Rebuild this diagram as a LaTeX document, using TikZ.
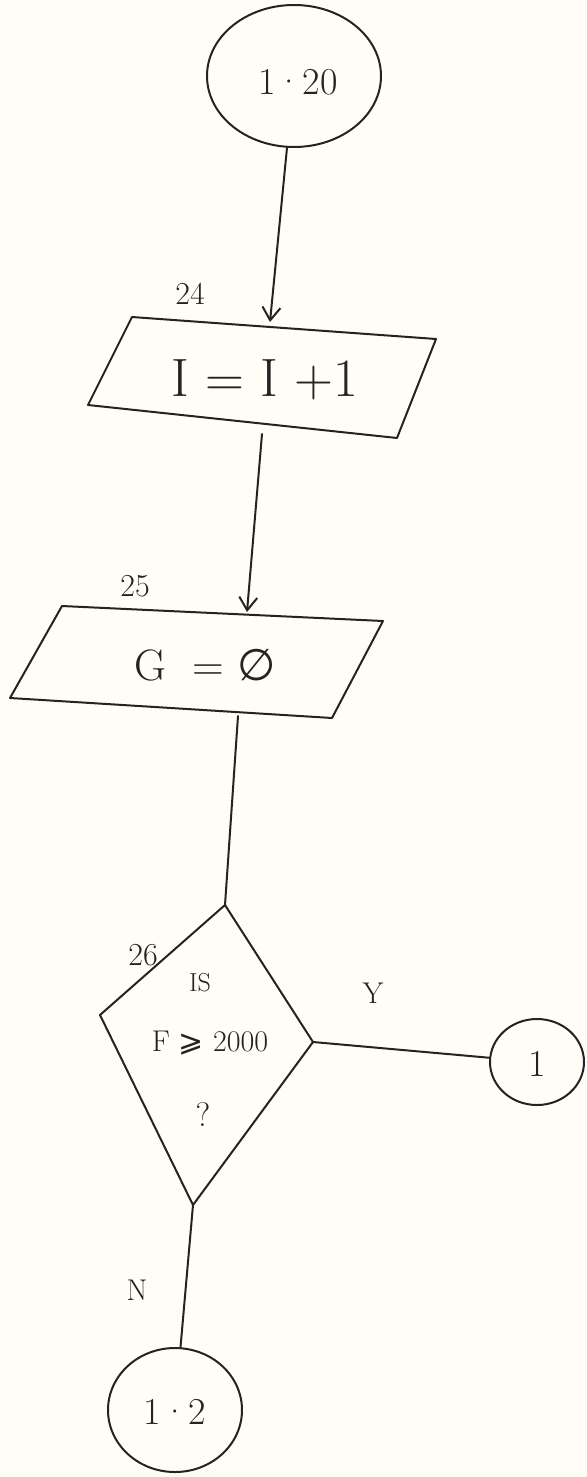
\documentclass[tikz,border=0pt]{standalone}
\usepackage{fontspec}
\setmainfont{Latin Modern Roman}
\newfontfamily\symf{DejaVu Sans}
\usetikzlibrary{arrows.meta,shapes.geometric}
\definecolor{paper}{RGB}{255,253,246}
\definecolor{ink}{RGB}{35,35,35}
\tikzset{
  ln/.style={line width=2pt, draw=ink, line cap=round, line join=round},
  arr/.style={ln, -{Straight Barb[length=13pt,width=18pt,line width=2pt]}},
  term/.style={ellipse, ln, inner sep=0pt},
  txt/.style={text=ink, inner sep=0pt},
}
\begin{document}
\begin{tikzpicture}[x=1pt,y=-1pt]
\fill[paper] (0,0) rectangle (586,1477);
\useasboundingbox (0,0) rectangle (586,1477);
% terminals
\node[term, minimum width=174pt, minimum height=142pt] (c1) at (294,76) {};
\node[txt, font=\fontsize{38}{42}\selectfont] (t1) at (298,82) {1·20};
\node[term, minimum width=94pt, minimum height=86pt] (c2) at (537,1062) {};
\node[txt, font=\fontsize{38}{42}\selectfont] (t2) at (537,1064) {1};
\node[term, minimum width=134pt, minimum height=124pt] (c3) at (175,1410) {};
\node[txt, font=\fontsize{38}{42}\selectfont] (t3) at (175,1412) {1·2};
% box 24
\coordinate (b1a) at (132,317);
\coordinate (b1b) at (436,339);
\coordinate (b1c) at (397,438);
\coordinate (b1d) at (88,405);
\draw[ln] (b1a) -- (b1b) -- (b1c) -- (b1d) -- cycle;
\coordinate (b1in) at (270,322);
\coordinate (b1out) at (262,434);
\node[txt, font=\fontsize{54}{58}\selectfont] (tb1) at (265,380) {I = I +1};
\node[txt, font=\fontsize{32}{36}\selectfont] (n24) at (190,294) {24};
% box 25
\coordinate (b2a) at (62,606);
\coordinate (b2b) at (383,621);
\coordinate (b2c) at (332,718);
\coordinate (b2d) at (10,698);
\draw[ln] (b2a) -- (b2b) -- (b2c) -- (b2d) -- cycle;
\coordinate (b2in) at (247,612);
\coordinate (b2out) at (238,716);
\node[txt, font=\fontsize{44}{48}\selectfont] (tb2) at (205,665) {G \ = {\symf ∅}};
\node[txt, font=\fontsize{32}{36}\selectfont] (n25) at (135,586) {25};
% diamond 26
\coordinate (dT) at (225,905);
\coordinate (dL) at (100,1015);
\coordinate (dB) at (193,1205);
\coordinate (dR) at (313,1042);
\draw[ln] (dT) -- (dR) -- (dB) -- (dL) -- cycle;
\node[txt, font=\fontsize{32}{36}\selectfont] (n26) at (143,955) {26};
\node[txt, font=\fontsize{26}{30}\selectfont] (q1) at (200,983) {IS};
\node[txt, font=\fontsize{30}{34}\selectfont] (q2) at (210,1043) {F {\symf ⩾} 2000};
\node[txt, font=\fontsize{34}{38}\selectfont] (q3) at (203,1115) {?};
\node[txt, font=\fontsize{30}{34}\selectfont] (ly) at (373,993) {Y};
\node[txt, font=\fontsize{30}{34}\selectfont] (lN) at (137,1290) {N};
% connectors
\draw[arr] (c1) -- (b1in);
\draw[arr] (b1out) -- (b2in);
\draw[ln] (b2out) -- (dT);
\draw[ln] (dR) -- (c2);
\draw[ln] (dB) -- (c3);
\end{tikzpicture}
\end{document}
